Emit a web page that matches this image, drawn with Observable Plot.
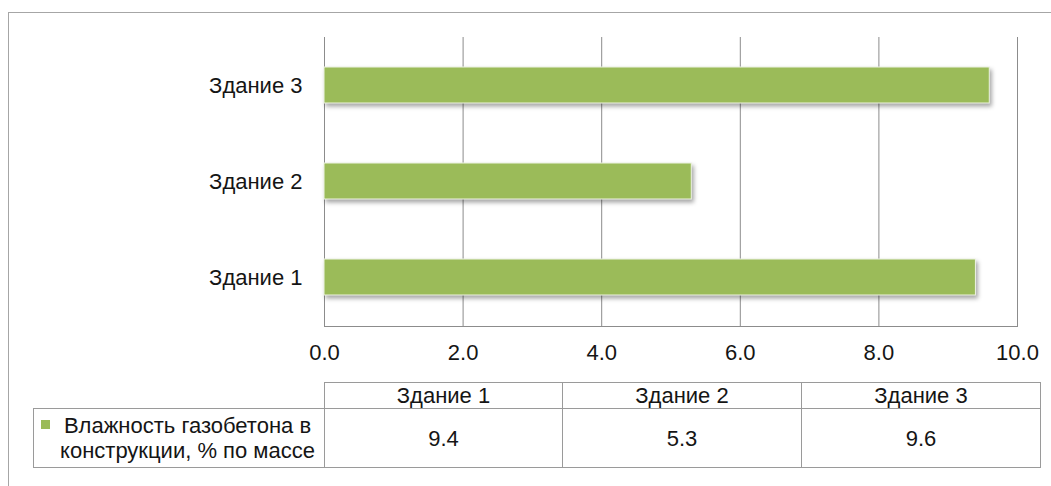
<!DOCTYPE html>
<html>
<head>
<meta charset="utf-8">
<script src="https://cdn.jsdelivr.net/npm/d3@7"></script>
<script src="https://cdn.jsdelivr.net/npm/@observablehq/plot@0.6"></script>
<style>
  body { margin: 0; background: #fff; font-family: "Liberation Sans", Arial, sans-serif; color: #151515; }
  #frame { position: absolute; left: 8px; top: 12px; width: 1100px; height: 600px; border: 1px solid #a6a6a6; }
  #chart { position: absolute; left: 0; top: 0; color: #151515; }
  #tbl { position: absolute; left: 33px; top: 382px; border-collapse: collapse; table-layout: fixed;
         font-size: 22px; line-height: 25px; }
  #tbl td { border: 1px solid #9a9a9a; text-align: center; padding: 0; }
  #tbl tr.head td { height: 25px; }
  #tbl tr.vals td { height: 58px; }
  #tbl td.blank { border-top: none; border-left: none; }
  #tbl td.series { position: relative; padding-left: 17px; }
  .swatch { position: absolute; left: 7px; top: 11px; width: 9px; height: 9px; }
</style>
</head>
<body>
<div id="frame"></div>
<div id="chart"></div>
<table id="tbl"></table>
<script>
// Moisture of aerated concrete in the walls of three buildings
const buildings = ["Здание 1", "Здание 2", "Здание 3"];
const moisture = [9.4, 5.3, 9.6];
const seriesLines = ["Влажность газобетона в", "конструкции, % по массе"];
const xTicks = [0, 2, 4, 6, 8, 10];
const barColor = "#9bbb59";

const data = buildings.map((b, i) => ({building: b, value: moisture[i]}));

const chart = Plot.plot({
  width: 1051,
  height: 370,
  marginLeft: 324,
  marginRight: 34,
  marginTop: 37,
  marginBottom: 44,
  style: {fontFamily: "Liberation Sans, Arial, sans-serif", fontSize: "22px", background: "transparent"},
  x: {domain: [0, 10], ticks: xTicks},
  y: {domain: buildings.slice().reverse(), paddingInner: 0.62, paddingOuter: 0.31},
  marks: [
    Plot.gridX(xTicks, {stroke: "#8c8c8c", strokeOpacity: 1, strokeWidth: 1}),
    Plot.frame({anchor: "bottom", stroke: "#8c8c8c"}),
    Plot.barX(data, {x: "value", y: "building", fill: barColor, stroke: "#eef3e3", strokeWidth: 1}),
    Plot.axisX({ticks: xTicks, tickSize: 0, tickPadding: 18, tickFormat: d => d.toFixed(1), label: null}),
    Plot.axisY({tickSize: 0, tickPadding: 22, label: null})
  ]
});
d3.select(chart).selectAll('g[aria-label="bar"]')
  .style("filter", "drop-shadow(2px 3px 2px rgba(0,0,0,0.35))");
document.getElementById("chart").append(chart);

// Data table under the chart
const tbl = d3.select("#tbl");
const cg = tbl.append("colgroup");
[291, 238, 239, 239].forEach(w => cg.append("col").style("width", w + "px"));
const head = tbl.append("tr").attr("class", "head");
head.append("td").attr("class", "blank");
buildings.forEach(b => head.append("td").text(b));
const vals = tbl.append("tr").attr("class", "vals");
const sc = vals.append("td").attr("class", "series");
sc.append("span").attr("class", "swatch").style("background", barColor);
sc.append("span").html(seriesLines.join("<br>"));
moisture.forEach(v => vals.append("td").text(v.toFixed(1)));
</script>
</body>
</html>
